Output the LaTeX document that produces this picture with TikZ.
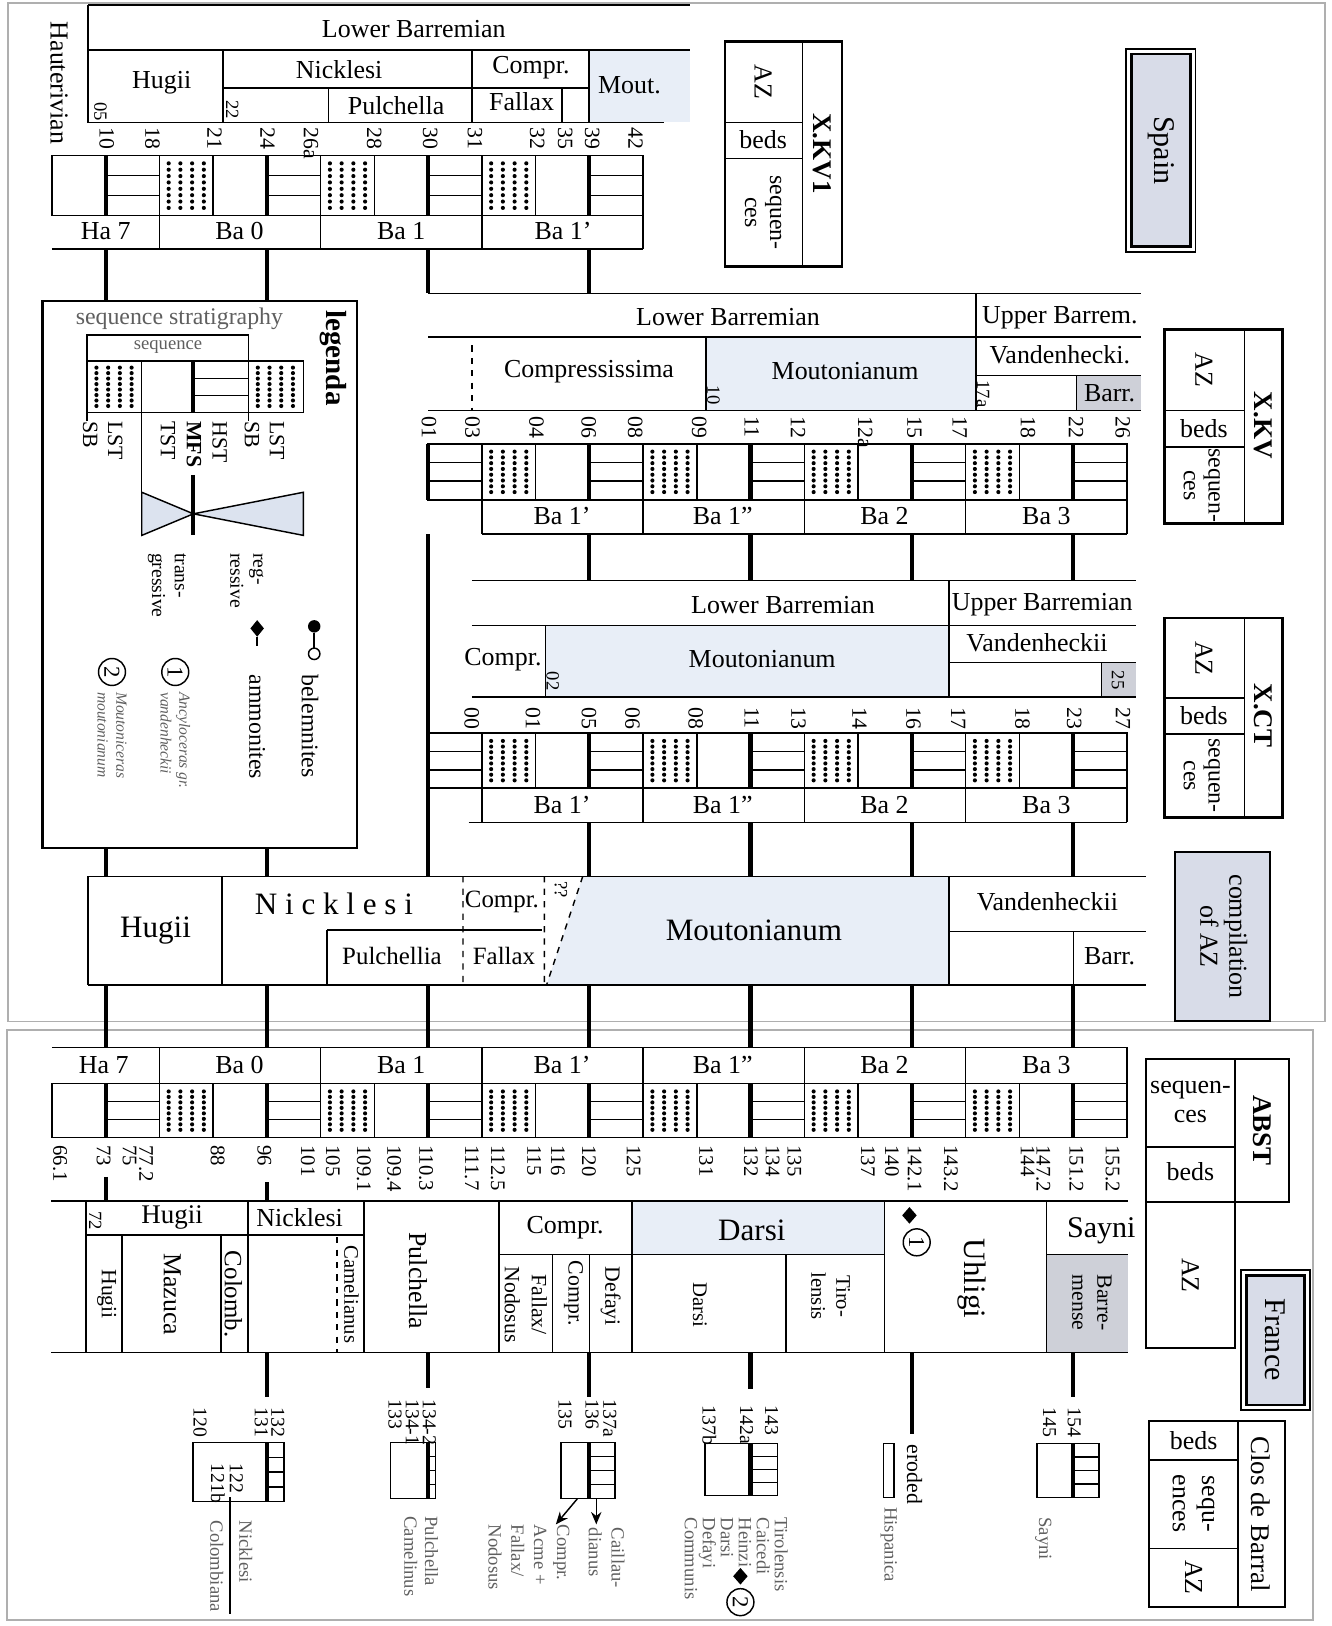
\documentclass[tikz,border=0pt]{standalone}
\usepackage{fontspec}
\setmainfont{Liberation Serif}
\usetikzlibrary{arrows.meta}
\definecolor{lb}{RGB}{232,238,247}
\definecolor{lb2}{RGB}{220,227,239}
\definecolor{gb}{RGB}{206,208,216}
\definecolor{bx}{RGB}{216,220,232}
\definecolor{fr}{RGB}{175,175,175}
\definecolor{gt}{RGB}{95,95,95}
\newcounter{nn}
\newcommand\fs[2]{\fontsize{#1}{#2}\selectfont}
\newcommand\lab[3][]{\stepcounter{nn}\node[lbl,#1,name=n\arabic{nn}] at (#2) {#3};}
\tikzset{
 lbl/.style={inner sep=0pt, align=center, font=\fs{12.5}{14}},
 rot/.style={rotate=-90},
 rtop/.style={rotate=-90, anchor=west, align=left},
 num/.style={rotate=-90, anchor=west, font=\fs{10.5}{12}},
 sm/.style={font=\fs{9}{10}},
 ln/.style={line width=0.7pt},
 thk/.style={line width=2pt},
 side/.style={line width=1.3pt},
 gtx/.style={text=gt},
 seqtxt/.style={rotate=-90, font=\fs{11.5}{12}},
}
% beds column: js, je, ytop, ybot
\newcommand\beds[4]{%
 \pgfmathtruncatemacro\jend{#2-1}%
 \foreach \j in {#1,...,\jend}{%
  \pgfmathsetmacro\xa{50+51.83*\j}%
  \pgfmathsetmacro\xb{\xa+51.83}%
  \pgfmathtruncatemacro\m{mod(\j,3)}%
  \pgfmathsetmacro\ya{#3+(#4-#3)/3}%
  \pgfmathsetmacro\yb{#3+2*(#4-#3)/3}%
  \ifnum\m=1
   \draw[ln] (\xa,\ya) -- (\xb,\ya) (\xa,\yb) -- (\xb,\yb);
  \fi
  \ifnum\m=2
   \foreach \a in {0,...,3}{\foreach \b in {0,...,7}{%
     \fill ({\xa+9+11.3*\a},{#3+7.5+\b*(#4-#3-15)/7}) circle (2);}}
  \fi
  \draw[ln] (\xa,#3) -- (\xa,#4);
 }%
 \draw[ln] ({50+51.83*#1},#3) rectangle ({50+51.83*#2},#4);
 \foreach \j in {#1,...,\jend}{%
  \pgfmathtruncatemacro\m{mod(\j,3)}%
  \ifnum\m=1 \draw[thk] ({50+51.83*\j},#3) -- ({50+51.83*\j},#4);\fi
 }%
}
% small Clos de Barral column: x1,y1,x2,y2,xthick
\newcommand\clos[5]{%
 \draw[ln] (#1,#2) rectangle (#3,#4);
 \foreach \k in {1,2,3}{\draw[ln] (#5,{#2+\k*(#4-#2)/4}) -- (#3,{#2+\k*(#4-#2)/4});}
 \draw[thk] (#5,#2) -- (#5,#4);
}
\begin{document}
\begin{tikzpicture}[x=0.5pt,y=-0.5pt]
\useasboundingbox (0,0) rectangle (1284,1568);
% panel frames
\draw[fr, line width=0.8pt] (8,3) rectangle (1278,985);
\draw[fr, line width=0.8pt] (7,993) rectangle (1266,1562);

%% ===== X.KV1 =====
\fill[lb] (568,48) rectangle (665,118);
\draw[ln] (85,5) -- (665,5) (85,48) -- (665,48) (85,5) -- (85,118) -- (640,118);
\draw[ln] (215,48)--(215,118) (215,85)--(568,85) (317,85)--(317,118)
 (455,48)--(455,118) (542,85)--(542,118) (568,48)--(568,118);
\lab[rot]{57,80}{Hauterivian}
\lab{399,28}{Lower Barremian}
\lab{156,80}{Hugii}
\lab{327,67}{Nicklesi}
\lab{382,102}{Pulchella}
\lab{512,65}{Compr.}
\lab{503,98}{Fallax}
\lab{607,82}{Mout.}
\lab[rot,sm]{97,108}{05}
\lab[rot,sm]{224,106}{22}
\foreach \x/\t in {103/10,147/18,207/21,258/24,300/26a,361/28,415/30,458/31,518/32,545/35,571/39,613/42}
 {\lab[num]{\x,123}{\t}}
\beds{0}{11}{150}{208}
\draw[ln] (50,240) -- (620.13,240);
\foreach \x in {153.66,309.15,464.64,620.13}{\draw[ln] (\x,208)--(\x,240);}
\lab{102,223}{Ha 7}
\lab{231,223}{Ba 0}
\lab{387,223}{Ba 1}
\lab{543,223}{Ba 1’}
\draw[thk] (101.83,240)--(101.83,290) (257.32,240)--(257.32,290)
 (412.81,240)--(412.81,283) (568.3,240)--(568.3,283);

%% ===== X.KV =====
\fill[lb] (681,325) rectangle (941,396);
\fill[gb] (1038,362) rectangle (1100,396);
\draw[ln] (412.81,283)--(1100,283) (412.81,325)--(1100,325) (412.81,396)--(1100,396)
 (941,283)--(941,396) (681,325)--(681,396) (941,362)--(1100,362) (1038,362)--(1038,396);
\draw[ln,dashed] (455,333)--(455,396);
\lab{702,306}{Lower Barremian}
\lab{1022,306}{Upper Barrem.}
\lab{568,358}{Compressissima}
\lab{815,358}{Moutonianum}
\lab{1022,342}{Vandenhecki.}
\lab{1070,379}{Barr.}
\lab[rot,sm]{688,381}{10}
\lab[rot,sm]{948,380}{17a}
\foreach \x/\t in {413.6/01,455.6/03,517.4/04,567.8/06,612.6/08,674.3/09,724.9/11,769.7/12,834.3/12a,881.9/15,925.6/17,991.3/18,1037.8/22,1082.7/26}
 {\lab[num]{\x,401}{\t}}
\beds{7}{20}{428}{482}
\draw[ln] (464.64,515)--(1086.6,515);
\foreach \x in {464.64,620.13,775.62,931.11,1086.6}{\draw[ln] (\x,482)--(\x,515);}
\lab{542,498}{Ba 1’}
\lab{697,498}{Ba 1”}
\lab{853,498}{Ba 2}
\lab{1009,498}{Ba 3}
\draw[thk] (568.3,515)--(568.3,560) (723.79,515)--(723.79,560)
 (879.28,515)--(879.28,560) (1034.77,515)--(1034.77,560) (412.81,515)--(412.81,845);

%% ===== X.CT =====
\fill[lb] (526,603) rectangle (915,672);
\fill[gb] (1062,639) rectangle (1095,672);
\draw[ln] (455,560)--(1095,560) (455,603)--(1095,603) (455,672)--(1095,672)
 (915,560)--(915,672) (526,603)--(526,672) (915,639)--(1095,639) (1062,639)--(1062,672);
\lab{755,583}{Lower Barremian}
\lab{1005,583}{Upper Barremian}
\lab{485,636}{Compr.}
\lab{735,636}{Moutonianum}
\lab{1000,620}{Vandenheckii}
\lab[rot,sm]{533,657}{02}
\lab[rot,sm]{1078,656}{25}
\foreach \x/\t in {455/00,514/01,568/05,610/06,671/08,725/11,770/13,829/14,881/16,924/17,986/18,1036/23,1083/27}
 {\lab[num]{\x,682}{\t}}
\beds{7}{20}{707}{760}
\draw[ln] (452,793)--(1086.6,793);
\foreach \x in {464.64,620.13,775.62,931.11,1086.6}{\draw[ln] (\x,760)--(\x,793);}
\lab{542,776}{Ba 1’}
\lab{697,776}{Ba 1”}
\lab{853,776}{Ba 2}
\lab{1009,776}{Ba 3}
\draw[thk] (568.3,793)--(568.3,845) (723.79,793)--(723.79,845)
 (879.28,793)--(879.28,845) (1034.77,793)--(1034.77,845)
 (101.83,818)--(101.83,845) (257.32,818)--(257.32,845);

%% ===== legend =====
\draw[line width=1.1pt] (41,290) rectangle (344,818);
\lab[rtop,font=\fs{14}{16}\bfseries]{321,299}{legenda}
\lab[font=\fs{11.5}{13},gtx]{173,307}{sequence stratigraphy}
\draw[ln] (84,406) -- (84,323) -- (239.6,323) -- (239.6,406);
\lab[font=\fs{9}{10},gtx]{162,335}{sequence}
\draw[ln] (84,348) rectangle (292.6,398);
\foreach \xa in {84,239.6}{\foreach \a in {0,...,3}{\foreach \b in {0,...,7}{%
  \fill ({\xa+9+11.3*\a},{354.5+\b*37/7}) circle (2);}}}
\draw[ln] (186.5,365)--(239.6,365) (186.5,381.6)--(239.6,381.6);
\filldraw[ln, fill=lb2] (136.7,474.7) -- (186.5,495.5) -- (136.7,516.3) -- cycle;
\filldraw[ln, fill=lb2] (292.6,474.7) -- (186.5,495.5) -- (292.6,516.3) -- cycle;
\draw[ln] (136.7,348) -- (136.7,516.3);
\draw[thk] (186.5,348)--(186.5,398) (186.5,458)--(186.5,516.3);
\lab[rtop,font=\fs{10.5}{12}]{99,406}{LST\\SB}
\lab[rtop,font=\fs{10.5}{12.5}]{187,406}{HST\\\textbf{MFS}\\TST}
\lab[rtop,font=\fs{10.5}{12}]{255,406}{LST\\SB}
\lab[rtop,font=\fs{9.5}{11}]{238,533}{reg-\\ressive}
\lab[rtop,font=\fs{9.5}{11}]{161,533}{trans-\\gressive}
\fill (303,604) circle (6);
\draw[ln] (303,610)--(303,625);
\draw[ln,fill=white] (303,630.5) circle (5.5);
\lab[rtop,font=\fs{11.5}{13}]{299,650}{belemnites}
\fill (248,598)--(254.5,606)--(248,614)--(241.5,606)--cycle;
\draw[line width=1.1pt] (248,614)--(248,623);
\lab[rtop,font=\fs{11.5}{13}]{248,650}{ammonites}
\draw[ln] (169,648) circle (13);
\lab[rot,font=\fs{11}{12}]{169,648}{1}
\draw[ln] (108,648) circle (13);
\lab[rot,font=\fs{11}{12}]{108,648}{2}
\lab[rtop,font=\fs{7.5}{9}\itshape,gtx]{169,667}{Ancyloceras gr.\\vandenheckii}
\lab[rtop,font=\fs{7.5}{9}\itshape,gtx]{108,667}{Moutoniceras\\moutonianum}

%% ===== compilation =====
\fill[lb] (562,845) -- (915,845) -- (915,950) -- (527,950) -- cycle;
\draw[ln] (85,845)--(1105,845) (85,950)--(1105,950) (85,845)--(85,950) (214,845)--(214,950)
 (315.5,897)--(523,897) (315.5,897)--(315.5,950) (915,845)--(915,950)
 (915,898)--(1105,898) (1035,898)--(1035,950);
\draw[ln,dashed] (446.5,845)--(446.5,950) (525,845)--(525,950) (562,845)--(527,950);
\lab[font=\fs{15}{17}]{150,897}{Hugii}
\lab[font=\fs{15}{17}]{322,872}{N i c k l e s i}
\lab[font=\fs{12}{13}]{378,922}{Pulchellia}
\lab[font=\fs{12}{13}]{484,870}{Compr.}
\lab[font=\fs{12}{13}]{486,922}{Fallax}
\lab[rot,sm]{541,858}{??}
\lab[font=\fs{15}{17}]{727,897}{Moutonianum}
\lab{1010,870}{Vandenheckii}
\lab{1070,922}{Barr.}
\foreach \x in {101.83,257.32,412.81,568.3,723.79,879.28,1034.77}{\draw[thk] (\x,950)--(\x,1010);}

%% ===== side boxes upper panel =====
\draw[side] (699,40) rectangle (812,257);
\draw[ln] (774,40)--(774,257) (699,118)--(774,118) (699,153)--(774,153);
\lab[rot]{736,79}{AZ}
\lab{736,135}{beds}
\lab[seqtxt]{736,205}{sequen-\\ces}
\lab[rot,font=\fs{13}{15}\bfseries]{793,148}{X.KV1}
\draw[line width=0.8pt] (1086,47) rectangle (1153,243);
\draw[line width=1.3pt,fill=bx] (1091,52) rectangle (1148,238);
\lab[rot,font=\fs{14.5}{16}]{1120,145}{Spain}
\draw[side] (1123,318) rectangle (1237,505);
\draw[ln] (1200,318)--(1200,505) (1123,396)--(1200,396) (1123,431)--(1200,431);
\lab[rot]{1161,357}{AZ}
\lab{1161,413}{beds}
\lab[seqtxt]{1159,468}{sequen-\\ces}
\lab[rot,font=\fs{13}{15}\bfseries]{1218,410}{X.KV}
\draw[side] (1123,596) rectangle (1237,788);
\draw[ln] (1200,596)--(1200,788) (1123,673)--(1200,673) (1123,708)--(1200,708);
\lab[rot]{1161,635}{AZ}
\lab{1161,690}{beds}
\lab[seqtxt]{1159,748}{sequen-\\ces}
\lab[rot,font=\fs{13}{15}\bfseries]{1218,690}{X.CT}
\draw[line width=1pt,fill=bx] (1133,822) rectangle (1225,985);
\lab[rot,font=\fs{12.5}{14}]{1180,903}{compilation\\of AZ}

%% ===== ABST =====
\draw[ln] (50,1010)--(1086.6,1010);
\foreach \x in {153.66,309.15,464.64,620.13,775.62,931.11,1086.6}{\draw[ln] (\x,1010)--(\x,1045);}
\lab{100,1027}{Ha 7}
\lab{231,1027}{Ba 0}
\lab{387,1027}{Ba 1}
\lab{542,1027}{Ba 1’}
\lab{697,1027}{Ba 1”}
\lab{853,1027}{Ba 2}
\lab{1009,1027}{Ba 3}
\beds{0}{20}{1045}{1097}
\foreach \x/\t in {58/66.1,100/73,125/75,141/77.2,210/88,255/96,297/101,321/105,351/109.1,380/109.4,411/110.3,455/111.7,480/112.5,515/115,538/116,568/120,611/125,681/131,724/132,745/134,766/135,837/137,860/140,882/142.1,917/143.2,991/144,1006/147.2,1038/151.2,1073/155.2}
 {\lab[num,font=\fs{10}{11}]{\x,1104}{\t}}
\draw[thk] (101.83,1135)--(101.83,1158) (257.32,1140)--(257.32,1158);
% AZ table
\fill[lb] (609.5,1158) rectangle (853,1210);
\fill[gb] (1009,1210) rectangle (1088,1304);
\draw[ln] (49.5,1158)--(1088,1158) (49.5,1304)--(1088,1304) (83,1158)--(83,1304)
 (83,1191)--(351,1191) (117.6,1191)--(117.6,1304) (213,1191)--(213,1304)
 (239,1158)--(239,1304) (351,1158)--(351,1304) (481,1158)--(481,1304)
 (481,1210)--(853,1210) (532.8,1210)--(532.8,1304) (568.5,1210)--(568.5,1304)
 (609.5,1158)--(609.5,1304) (758,1210)--(758,1304) (853,1158)--(853,1304)
 (1009,1158)--(1009,1304) (1009,1210)--(1088,1210);
\draw[ln,dashed] (325,1193)--(325,1304);
\lab[rot,sm]{92,1177}{72}
\lab[font=\fs{13}{15}]{166,1174}{Hugii}
\lab{289,1174}{Nicklesi}
\lab[rot,font=\fs{10.5}{12}]{103,1248}{Hugii}
\lab[rot]{166,1248}{Mazuca}
\lab[rot,font=\fs{12}{13}]{225,1248}{Colomb.}
\lab[rot,font=\fs{10}{11}]{339,1248}{Camelianus}
\lab[rot]{403,1235}{Pulchella}
\lab{545,1184}{Compr.}
\lab[rot,font=\fs{10.5}{13}]{507,1258}{Fallax/\\Nodosus}
\lab[rot,font=\fs{10.5}{12}]{553,1247}{Compr.}
\lab[rot,font=\fs{10.5}{12}]{589,1250}{Defayi}
\lab[font=\fs{15}{17}]{725,1186}{Darsi}
\lab[rot,font=\fs{10}{11}]{675,1258}{Darsi}
\lab[rot,font=\fs{10}{12}]{801,1250}{Tiro-\\lensis}
\lab[rot,font=\fs{15}{17}]{937,1233}{Uhligi}
\fill (877,1164)--(884,1172)--(877,1180)--(870,1172)--cycle;
\draw[ln] (884,1198) circle (13);
\lab[rot,font=\fs{11}{12}]{884,1198}{1}
\lab[font=\fs{14.5}{16}]{1062,1187}{Sayni}
\lab[rot,font=\fs{10.5}{12}]{1053,1256}{Barre-\\mense}
\foreach \x/\y in {257.32/1347,412.81/1338,568.3/1347,723.79/1339,879.28/1383,1034.77/1347}{\draw[thk] (\x,1304)--(\x,\y);}

%% ===== Clos de Barral columns =====
\clos{186}{1391}{274}{1448}{257.32}
\lab[num,font=\fs{9.5}{10}]{268,1357}{132}
\lab[num,font=\fs{9.5}{10}]{252,1357}{131}
\lab[num,font=\fs{9.5}{10}]{193,1357}{120}
\lab[num,font=\fs{9.5}{10}]{228,1411}{122}
\lab[num,font=\fs{9.5}{10}]{210,1411}{121b}
\draw[ln] (222,1444)--(222,1556);
\lab[rtop,font=\fs{9}{10},gtx]{237,1466}{Nicklesi}
\lab[rtop,font=\fs{9}{10},gtx]{209,1466}{Colombiana}
\clos{376.5}{1391}{420}{1445}{412.81}
\lab[num,font=\fs{9.5}{10}]{414,1349}{134-2}
\lab[num,font=\fs{9.5}{10}]{397.5,1349}{134-1}
\lab[num,font=\fs{9.5}{10}]{381,1349}{133}
\lab[rtop,font=\fs{9}{10},gtx]{406,1462}{Pulchella\\Camelinus}
\clos{541}{1391}{593}{1445}{568.3}
\lab[num,font=\fs{9.5}{10}]{588,1349}{137a}
\lab[num,font=\fs{9.5}{10}]{571,1349}{136}
\lab[num,font=\fs{9.5}{10}]{545,1349}{135}
\draw[ln,-{Stealth[length=6pt,width=5pt]}] (557,1445)--(536,1470);
\draw[ln,-{Stealth[length=6pt,width=5pt]}] (575,1445)--(575,1470);
\lab[rtop,font=\fs{9}{11},gtx]{585,1473}{Caillau-\\dianus}
\lab[rtop,font=\fs{9}{11},gtx]{510,1470}{Compr.\\Acme +\\Fallax/\\Nodosus}
\clos{680}{1392}{750}{1442}{723.79}
\lab[num,font=\fs{9.5}{10}]{744,1355}{143}
\lab[num,font=\fs{9.5}{10}]{720,1355}{142a}
\lab[num,font=\fs{9.5}{10}]{684,1355}{137b}
\lab[rtop,font=\fs{9}{8.7},gtx]{710,1463}{Tirolensis\\Caicedi\\Heinzi\\Darsi\\Defayi\\Communis}
\fill (714,1512)--(721,1520)--(714,1528)--(707,1520)--cycle;
\draw[ln,fill=white] (714,1545) circle (13);
\lab[rot,font=\fs{11}{12}]{714,1545}{2}
\draw[ln] (852,1392) rectangle (862,1444);
\lab[rtop,font=\fs{10.5}{12}]{882,1393}{eroded}
\lab[rtop,font=\fs{9}{10},gtx]{857,1453}{Hispanica}
\clos{1000}{1392}{1060}{1444}{1034.77}
\lab[num,font=\fs{9.5}{10}]{1036,1357}{154}
\lab[num,font=\fs{9.5}{10}]{1012,1357}{145}
\lab[rtop,font=\fs{9}{10},gtx]{1006,1463}{Sayni}

%% ===== side boxes lower panel =====
\draw[line width=1pt] (1105,1021) rectangle (1243,1159);
\draw[ln] (1191,1021)--(1191,1159) (1105,1106)--(1191,1106);
\draw[line width=1pt] (1105,1159) rectangle (1191,1300);
\lab{1148,1063}{sequen-\\ces}
\lab{1148,1130}{beds}
\lab[rot]{1148,1230}{AZ}
\lab[rot,font=\fs{13}{15}\bfseries]{1217,1090}{ABST}
\draw[line width=0.8pt] (1197,1225) rectangle (1263,1360);
\draw[line width=1.3pt,fill=bx] (1202,1230) rectangle (1258,1355);
\lab[rot,font=\fs{14.5}{16}]{1230,1292}{France}
\draw[line width=1pt] (1108,1370) rectangle (1239,1550);
\draw[ln] (1194,1370)--(1194,1550) (1108,1408)--(1194,1408) (1108,1493)--(1194,1493);
\lab{1151,1389}{beds}
\lab[rot]{1151,1450}{sequ-\\ences}
\lab[rot]{1151,1521}{AZ}
\lab[rot,font=\fs{13}{15}]{1216,1460}{Clos de Barral}
\end{tikzpicture}
\end{document}
